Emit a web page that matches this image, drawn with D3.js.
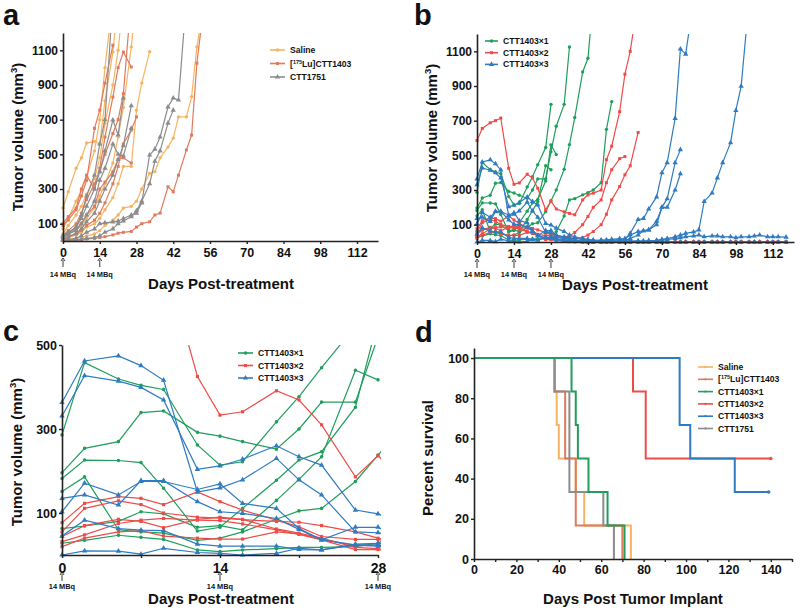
<!DOCTYPE html>
<html>
<head>
<meta charset="utf-8">
<script src="https://cdnjs.cloudflare.com/ajax/libs/d3/7.8.5/d3.min.js"></script>
<style>
body { margin: 0; background: #fff; }
text { font-family: "Liberation Sans", Arial, Helvetica, sans-serif; font-weight: bold; fill: #111; }
</style>
</head>
<body>
<div id="chart"></div>
<script>

// measurement days (days post-treatment)
var days = [0,2,5,7,9,12,14,16,19,21,23,26,28,30,33,35,37,40,42,44,47,49,51,54,56,58,61,63,65,68,70,72,75,77,79,82,84,86,89,91,93,96,98,100,103,105,107,110,112,114,117];

// panel a : tumor volumes (mm3), one row per mouse
var salineVol = [
	[190, 284, 420, 480, 565, 575, 560, 810, 1090, 1400],
	[70, 130, 230, 290, 370, 520, 700, 1000, 1400],
	[40, 90, 150, 200, 270, 360, 480, 680, 900, 1100, 1400],
	[20, 40, 60, 90, 130, 190, 260, 330, 450, 600, 770, 1120, 1400],
	[10, 20, 35, 50, 80, 100, 130, 180, 250, 330, 430, 430, 755, 911, 1092],
	[5, 10, 15, 20, 30, 40, 60, 90, 120, 150, 190, 200, 230, 300, 390, 400, 480, 543, 593, 716, 716, 833, 1120, 1400]
];
var luVol = [
	[90, 120, 180, 260, 350, 650, 755, 911, 1130],
	[100, 140, 190, 300, 380, 300, 420, 600, 830, 1000, 1090, 1004],
	[30, 60, 100, 160, 240, 330, 400, 500, 620, 700, 850, 1400],
	[20, 40, 70, 100, 150, 200, 300, 340, 400, 470, 480, 450],
	[10, 20, 40, 60, 90, 120, 160, 220, 330, 430, 560, 640, 716],
	[0, 2, 5, 8, 12, 15, 20, 25, 35, 45, 50, 55, 80, 100, 111, 150, 161, 313, 284, 380, 525, 611, 1026, 1400]
];
var cttVol = [
	[30, 50, 80, 130, 200, 300, 400, 520, 698, 612, 825],
	[20, 40, 60, 100, 150, 230, 350, 420, 560, 500, 490, 650],
	[25, 45, 80, 150, 260, 380, 560, 700, 1400],
	[10, 25, 45, 70, 110, 160, 230, 300, 380, 470, 550, 780],
	[5, 8, 15, 30, 50, 70, 100, 105, 110, 115, 130, 150, 160, 220, 496, 530, 600, 773, 825, 813, 1400],
	[3, 5, 8, 10, 15, 20, 30, 50, 70, 100, 115, 140, 175, 230, 330, 460, 520, 680, 755]
];

// panels b and c : CTT1403 x1 / x2 / x3
var x1Vol = [
	[286, 458, 419, 404, 394, 262, 214, 222, 317, 377, 446, 545, 794],
	[196, 254, 270, 339, 343, 292, 283, 270, 252, 300, 364, 364, 520, 668, 794, 1125],
	[182, 226, 225, 220, 159, 57, 66, 111, 178, 226, 246, 352, 560, 505],
	[151, 186, 60, 55, 52, 35, 40, 55, 85, 105, 111, 175, 238, 300, 420, 562, 718, 981, 1060, 1400],
	[63, 69, 80, 103, 98, 66, 70, 60, 130, 180, 234, 440, 417],
	[28, 35, 47, 42, 37, 12, 8, 12, 15, 18, 18, 20, 28, 60, 150, 243, 250, 272, 285, 300, 342, 650, 810]
];
var x2Vol = [
	[585, 655, 688, 700, 715, 425, 333, 341, 391, 369, 310, 186, 236, 191, 174, 165, 157, 243, 272, 282, 300, 475, 553, 752, 968, 1100, 1400],
	[77, 123, 139, 135, 120, 150, 127, 107, 83, 67, 44, 37, 37, 30, 28, 35, 55, 100, 147, 200, 243, 342, 417, 481, 493],
	[55, 111, 129, 120, 100, 90, 88, 84, 80, 78, 70, 55, 40, 30, 25, 22, 20, 25, 40, 60, 100, 160, 243, 320, 388, 440, 632],
	[32, 48, 75, 83, 87, 83, 82, 74, 60, 49, 36, 13, 13, 8, 5, 3, 2, 1, 0, 0, 0, 0, 0, 0, 0, 0, 0, 0, 0, 0, 0, 0, 0, 0, 0, 0, 0, 0, 0, 0, 0, 0, 0, 0, 0, 0, 0, 0, 0, 0, 0],
	[20, 40, 55, 58, 45, 40, 38, 38, 55, 50, 38, 22, 22, 15, 10, 5, 3, 2, 1, 0, 0, 0, 0, 0, 0, 0, 0, 0, 0, 0, 0, 0, 0, 0, 0, 0, 0, 0, 0, 0, 0, 0, 0, 0, 0, 0, 0, 0, 0, 0, 0],
	[44, 70, 85, 80, 65, 85, 90, 85, 62, 52, 40, 18, 15, 10, 5, 2, 1, 0, 0, 0, 0, 0, 0, 0, 0, 0, 0, 0, 0, 0, 0, 0, 0, 0, 0, 0, 0, 0, 0, 0, 0, 0, 0, 0, 0, 0, 0, 0, 0, 0, 0]
];
var x3Vol = [
	[363, 462, 474, 451, 416, 150, 160, 179, 230, 179, 143, 55, 53, 40, 30, 25, 20, 15, 12, 10, 10, 12, 15, 20, 15, 50, 130, 135, 190, 260, 400, 458, 713, 1113, 1084, 1400],
	[331, 427, 414, 399, 369, 204, 212, 228, 260, 234, 214, 107, 98, 80, 60, 40, 30, 20, 15, 10, 10, 10, 10, 15, 20, 40, 60, 65, 70, 120, 200, 200, 300, 394],
	[135, 143, 119, 177, 177, 127, 103, 99, 87, 61, 36, 24, 21, 15, 10, 8, 5, 5, 5, 5, 5, 5, 5, 5, 8, 20, 40, 65, 70, 100, 200, 250, 458, 533],
	[103, 171, 143, 175, 175, 156, 169, 123, 111, 63, 36, 66, 66, 40, 25, 15, 10, 8, 5, 5, 5, 5, 5, 5, 5, 5, 5, 5, 8, 10, 15, 20, 30, 40, 50, 58, 70, 234, 283, 370, 458, 573, 759, 899, 1400],
	[45, 83, 63, 59, 58, 26, 21, 21, 21, 13, 12, 26, 28, 25, 20, 15, 10, 8, 5, 5, 5, 5, 5, 5, 5, 5, 5, 5, 5, 8, 12, 15, 20, 25, 30, 35, 40, 30, 35, 35, 30, 30, 25, 30, 30, 35, 40, 30, 30, 30, 28],
	[0, 10, 9, 2, 16, 6, 4, 0, 4, 16, 12, 24, 24, 15, 8, 5, 3, 2, 0, 0, 0, 0, 0, 0, 0, 0, 0, 0, 0, 0, 0, 0, 0, 0, 0, 0, 0, 0, 0, 0, 0, 0, 0, 0, 0, 0, 0, 0, 0, 0, 0]
];

// panel d : survival steps [day post implant, percent]
var survSaline = [[0,100],[38,83.3],[39,66.7],[40,50],[48,33.3],[52,16.7],[74,0]];
var survLu = [[0,100],[38,83.3],[43,50],[48,16.7],[70,0]];
var survX1 = [[0,100],[46,83.3],[48,66.7],[49,50],[54,33.3],[63,16.7],[71,0]];
var survX2 = [[0,100],[75,83.3],[81,50],[140,50]];
var survX3 = [[0,100],[97,66.7],[102,50],[123,33.3],[139,33.3]];
var survCtt = [[0,100],[38,83.3],[45,33.3],[61,16.7],[66,0]];

var doseDaysA = [0, 14];
var doseDaysB = [0, 14, 28];

var colors = {
	saline: "#f5b462",
	lu: "#e07a5c",
	ctt: "#8c8c8c",
	x1: "#1f9e5c",
	x2: "#ee4c48",
	x3: "#2f7bc1"
};

var svg = d3.select("#chart").append("svg")
			.attr("width", 800)
			.attr("height", 610);

var defs = svg.append("defs");

function addClip(id, x, y, w, h)
{
	defs.append("clipPath").attr("id", id)
		.append("rect").attr("x", x).attr("y", y).attr("width", w).attr("height", h);
}

function styleAxis(g, fontSize)
{
	g.select(".domain").attr("stroke", "#222").attr("stroke-width", 1.6);
	g.selectAll(".tick line").attr("stroke", "#222").attr("stroke-width", 1.4);
	g.selectAll(".tick text")
		.style("font-size", fontSize + "px")
		.style("font-weight", "bold")
		.attr("fill", "#111");
}

function drawVolumes(g, x, y, groups, clipId)
{
	var layer = g.append("g").attr("clip-path", "url(#" + clipId + ")");
	groups.forEach(function(grp) {
		grp.rows.forEach(function(vals) {
			var pts = vals.map(function(v, i) { return [days[i], v]; });
			layer.append("path")
				.datum(pts)
				.attr("d", d3.line().x(function(d) { return x(d[0]); }).y(function(d) { return y(d[1]); }))
				.attr("fill", "none")
				.attr("stroke", grp.color)
				.attr("stroke-width", 1.2);
			layer.selectAll(null)
				.data(pts)
				.enter().append("path")
				.attr("d", d3.symbol().type(grp.shape).size(grp.size))
				.attr("transform", function(d) { return "translate(" + x(d[0]) + "," + y(d[1]) + ")"; })
				.attr("fill", grp.color);
		});
	});
}

function drawLegend(g, x0, y0, step, items, len)
{
	items.forEach(function(it, i) {
		var yy = y0 + i * step;
		g.append("line")
			.attr("x1", x0).attr("x2", x0 + len)
			.attr("y1", yy).attr("y2", yy)
			.attr("stroke", it.color).attr("stroke-width", 1.6);
		g.append("path")
			.attr("d", d3.symbol().type(it.shape).size(it.size))
			.attr("transform", "translate(" + (x0 + len / 2) + "," + yy + ")")
			.attr("fill", it.color);
		var t = g.append("text")
			.attr("x", x0 + len + 5)
			.attr("y", yy + 3)
			.style("font-size", "8.6px");
		if (it.sup) {
			t.append("tspan").text("[");
			t.append("tspan").text(it.sup).style("font-size", "5.5px").attr("dy", -3);
			t.append("tspan").text(it.label).attr("dy", 3);
		} else {
			t.text(it.label);
		}
	});
}

function drawDoses(g, x, doseDays, yTop, yText)
{
	doseDays.forEach(function(dd) {
		var xx = x(dd);
		g.append("line")
			.attr("x1", xx).attr("x2", xx)
			.attr("y1", yTop + 2).attr("y2", yTop + 9)
			.attr("stroke", "#222").attr("stroke-width", 0.9);
		g.append("path")
			.attr("d", "M" + (xx - 2) + "," + (yTop + 3) + "L" + xx + "," + yTop + "L" + (xx + 2) + "," + (yTop + 3))
			.attr("fill", "none").attr("stroke", "#222").attr("stroke-width", 0.9);
		g.append("text")
			.attr("x", xx).attr("y", yText)
			.attr("text-anchor", "middle")
			.style("font-size", "7.4px")
			.text("14 MBq");
	});
}

function yTitle(g, text, x, y, sup)
{
	var t = g.append("text")
		.attr("transform", "translate(" + x + "," + y + ") rotate(-90)")
		.attr("text-anchor", "middle")
		.style("font-size", "15px");
	t.append("tspan").text(text);
	if (sup) {
		t.append("tspan").text(sup).style("font-size", "9.5px").attr("dy", -6);
		t.append("tspan").text(")").attr("dy", 6);
	}
}

function xTitle(g, text, x, y)
{
	g.append("text")
		.attr("x", x).attr("y", y)
		.attr("text-anchor", "middle")
		.style("font-size", "15px")
		.text(text);
}

function panelLabel(g, text, x, y)
{
	g.append("text")
		.attr("x", x).attr("y", y)
		.style("font-size", "29px")
		.text(text);
}

var weekTicks = [0, 14, 28, 42, 56, 70, 84, 98, 112];
var plain = d3.format("d");

// ---------- panel a ----------
var xA = d3.scaleLinear().domain([0, 120]).range([63, 378]);
var yA = d3.scaleLinear().domain([0, 1200]).range([241, 33]);
addClip("clipA", 0, 33, 800, 230);

var gA = svg.append("g");
drawVolumes(gA, xA, yA, [
	{ rows: salineVol, color: colors.saline, shape: d3.symbolCircle, size: 9 },
	{ rows: luVol, color: colors.lu, shape: d3.symbolSquare, size: 9 },
	{ rows: cttVol, color: colors.ctt, shape: d3.symbolTriangle, size: 12 }
], "clipA");

gA.append("g").attr("transform", "translate(0,241)")
	.call(d3.axisBottom(xA).tickValues(weekTicks).tickFormat(plain).tickSize(3).tickSizeOuter(0).tickPadding(4))
	.call(styleAxis, 12.5);
gA.append("g").attr("transform", "translate(63,0)")
	.call(d3.axisLeft(yA).tickValues([100, 300, 500, 700, 900, 1100]).tickFormat(plain).tickSize(3).tickSizeOuter(0).tickPadding(2))
	.call(styleAxis, 12);

drawDoses(gA, xA, doseDaysA, 258, 277);
yTitle(gA, "Tumor volume (mm", 23, 137, "3");
xTitle(gA, "Days Post-treatment", 221, 289);
panelLabel(gA, "a", 3, 25);
drawLegend(gA, 270, 50, 13.5, [
	{ label: "Saline", color: colors.saline, shape: d3.symbolCircle, size: 9 },
	{ label: "Lu]CTT1403", sup: "175", color: colors.lu, shape: d3.symbolSquare, size: 9 },
	{ label: "CTT1751", color: colors.ctt, shape: d3.symbolTriangle, size: 12 }
], 15);

// ---------- panel b ----------
var xB = d3.scaleLinear().domain([0, 120]).range([477, 794]);
var yB = d3.scaleLinear().domain([0, 1200]).range([242, 34]);
addClip("clipB", 400, 34, 400, 230);

var gB = svg.append("g");
drawVolumes(gB, xB, yB, [
	{ rows: x1Vol, color: colors.x1, shape: d3.symbolCircle, size: 9 },
	{ rows: x2Vol, color: colors.x2, shape: d3.symbolSquare, size: 9 },
	{ rows: x3Vol, color: colors.x3, shape: d3.symbolTriangle, size: 12 }
], "clipB");

gB.append("g").attr("transform", "translate(0,242)")
	.call(d3.axisBottom(xB).tickValues(weekTicks).tickFormat(plain).tickSize(3).tickSizeOuter(0).tickPadding(4))
	.call(styleAxis, 12.5);
gB.append("g").attr("transform", "translate(477,0)")
	.call(d3.axisLeft(yB).tickValues([100, 300, 500, 700, 900, 1100]).tickFormat(plain).tickSize(3).tickSizeOuter(0).tickPadding(2))
	.call(styleAxis, 12);

drawDoses(gB, xB, doseDaysB, 259, 277);
yTitle(gB, "Tumor volume (mm", 437, 138, "3");
xTitle(gB, "Days Post-treatment", 635, 290);
panelLabel(gB, "b", 414, 25);
drawLegend(gB, 485, 41, 11.7, [
	{ label: "CTT1403\u00d71", color: colors.x1, shape: d3.symbolCircle, size: 9 },
	{ label: "CTT1403\u00d72", color: colors.x2, shape: d3.symbolSquare, size: 9 },
	{ label: "CTT1403\u00d73", color: colors.x3, shape: d3.symbolTriangle, size: 12 }
], 13);

// ---------- panel c ----------
var xC = d3.scaleLinear().domain([0, 28]).range([62, 378]);
var yC = d3.scaleLinear().domain([0, 500]).range([555, 345]);
addClip("clipC", 0, 345, 381, 220);

var gC = svg.append("g");
drawVolumes(gC, xC, yC, [
	{ rows: x1Vol, color: colors.x1, shape: d3.symbolCircle, size: 10 },
	{ rows: x2Vol, color: colors.x2, shape: d3.symbolSquare, size: 10 },
	{ rows: x3Vol, color: colors.x3, shape: d3.symbolTriangle, size: 13 }
], "clipC");

gC.append("g").attr("transform", "translate(0,555)")
	.call(d3.axisBottom(xC).tickValues([0, 7, 14, 21, 28])
		.tickFormat(function(d) { return d % 14 === 0 ? d : ""; })
		.tickSize(3).tickSizeOuter(0).tickPadding(5))
	.call(styleAxis, 14);
gC.append("g").attr("transform", "translate(62,0)")
	.call(d3.axisLeft(yC).tickValues([100, 300, 500]).tickSize(3).tickSizeOuter(0).tickPadding(2))
	.call(styleAxis, 12.5);

drawDoses(gC, xC, doseDaysB, 572, 589);
yTitle(gC, "Tumor volume (mm", 22, 452, "3");
xTitle(gC, "Days Post-treatment", 221, 604);
panelLabel(gC, "c", 3, 341);
drawLegend(gC, 238, 353, 12.5, [
	{ label: "CTT1403\u00d71", color: colors.x1, shape: d3.symbolCircle, size: 9 },
	{ label: "CTT1403\u00d72", color: colors.x2, shape: d3.symbolSquare, size: 9 },
	{ label: "CTT1403\u00d73", color: colors.x3, shape: d3.symbolTriangle, size: 12 }
], 15);

// ---------- panel d ----------
var xD = d3.scaleLinear().domain([0, 150]).range([474, 792]);
var yD = d3.scaleLinear().domain([0, 105]).range([559, 348]);

var gD = svg.append("g");
var step = d3.line().curve(d3.curveStepAfter)
			.x(function(d) { return xD(d[0]); })
			.y(function(d) { return yD(d[1]); });

[
	{ data: survX2, color: colors.x2 },
	{ data: survX3, color: colors.x3 },
	{ data: survSaline, color: colors.saline },
	{ data: survLu, color: colors.lu },
	{ data: survCtt, color: colors.ctt },
	{ data: survX1, color: colors.x1 }
].forEach(function(s) {
	gD.append("path")
		.datum(s.data)
		.attr("d", step)
		.attr("fill", "none")
		.attr("stroke", s.color)
		.attr("stroke-width", 2);
	var last = s.data[s.data.length - 1];
	if (last[1] > 0) {
		gD.append("path")
			.attr("d", d3.symbol().type(d3.symbolCircle).size(10))
			.attr("transform", "translate(" + xD(last[0]) + "," + yD(last[1]) + ")")
			.attr("fill", s.color);
	}
});

gD.append("g").attr("transform", "translate(0,559)")
	.call(d3.axisBottom(xD).tickValues(d3.range(0, 151, 10))
		.tickFormat(function(d) { return (d % 20 === 0 && d <= 140) ? d : ""; })
		.tickSize(3).tickSizeOuter(0).tickPadding(3))
	.call(styleAxis, 12.5);
gD.append("g").attr("transform", "translate(474,0)")
	.call(d3.axisLeft(yD).tickValues([0, 20, 40, 60, 80, 100]).tickSize(3).tickSizeOuter(0).tickPadding(2))
	.call(styleAxis, 12.5);

yTitle(gD, "Percent survival", 433, 458);
xTitle(gD, "Days Post Tumor Implant", 633, 604);
panelLabel(gD, "d", 415, 342);
drawLegend(gD, 698, 367, 12.3, [
	{ label: "Saline", color: colors.saline, shape: d3.symbolCircle, size: 4 },
	{ label: "Lu]CTT1403", sup: "175", color: colors.lu, shape: d3.symbolCircle, size: 4 },
	{ label: "CTT1403\u00d71", color: colors.x1, shape: d3.symbolCircle, size: 4 },
	{ label: "CTT1403\u00d72", color: colors.x2, shape: d3.symbolCircle, size: 4 },
	{ label: "CTT1403\u00d73", color: colors.x3, shape: d3.symbolCircle, size: 4 },
	{ label: "CTT1751", color: colors.ctt, shape: d3.symbolCircle, size: 4 }
], 15);

</script>
</body>
</html>
